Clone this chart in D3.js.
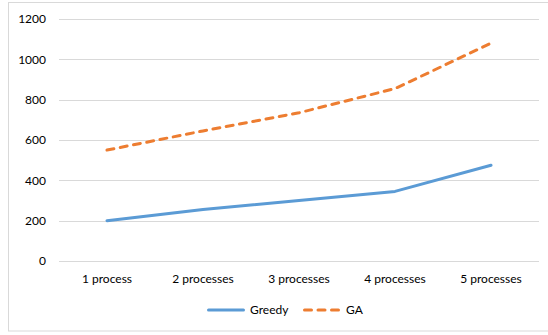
<!DOCTYPE html>
<html>
<head>
<meta charset="utf-8">
<script src="https://cdn.jsdelivr.net/npm/d3@7"></script>
<style>
  html, body { margin: 0; padding: 0; background: #fff; }
  svg { display: block; }
  text { font-family: Lato, "Open Sans", sans-serif; font-size: 12px; fill: #000; }
</style>
</head>
<body>
<svg id="chart" width="548" height="335"></svg>
<script>
// Run time by number of processes
const categories = ["1 process", "2 processes", "3 processes", "4 processes", "5 processes"];
const greedy = [200, 255, 300, 345, 475];
const ga = [550, 645, 735, 855, 1080];
const yTicks = [0, 200, 400, 600, 800, 1000, 1200];
const seriesNames = ["Greedy", "GA"];
const seriesColors = ["#5b9bd5", "#ed7d31"];

const svg = d3.select("#chart");
const fontFamily = "Lato, 'Open Sans', sans-serif";

// chart frame
svg.append("rect")
  .attr("x", 8.5).attr("y", 2.5)
  .attr("width", 545).attr("height", 328.5)
  .attr("fill", "#fff").attr("stroke", "#d9d9d9").attr("stroke-width", 1);

const x = d3.scaleBand().domain(categories).range([59, 539]);
const y = d3.scaleLinear().domain([0, 1200]).range([261, 19]);

// horizontal gridlines
svg.append("g").selectAll("line").data(yTicks).join("line")
  .attr("x1", 59).attr("x2", 539)
  .attr("y1", d => Math.round(y(d)) + 0.5).attr("y2", d => Math.round(y(d)) + 0.5)
  .attr("stroke", "#d9d9d9").attr("stroke-width", 1);

// value axis labels
const yAxis = svg.append("g").attr("transform", "translate(46,0)")
  .call(d3.axisLeft(y).tickValues(yTicks).tickFormat(d3.format("d")).tickSize(0).tickPadding(0));
yAxis.select(".domain").remove();
yAxis.selectAll("text").style("font-family", fontFamily).style("font-size", "12px").attr("fill", "#000");

// category axis labels
const xAxis = svg.append("g").attr("transform", "translate(0,274)")
  .call(d3.axisBottom(x).tickSize(0).tickPadding(0));
xAxis.select(".domain").remove();
xAxis.selectAll("text").style("font-family", fontFamily).style("font-size", "12px").attr("fill", "#000");

const line = d3.line()
  .x((d, i) => x(categories[i]) + x.bandwidth() / 2)
  .y(d => y(d));

svg.append("path").datum(greedy)
  .attr("d", line).attr("fill", "none")
  .attr("stroke", seriesColors[0]).attr("stroke-width", 3)
  .attr("stroke-linejoin", "round").attr("stroke-linecap", "round");

svg.append("path").datum(ga)
  .attr("d", line).attr("fill", "none")
  .attr("stroke", seriesColors[1]).attr("stroke-width", 3)
  .attr("stroke-dasharray", "7,6.5")
  .attr("stroke-linejoin", "round").attr("stroke-linecap", "round");

// legend
const legend = svg.append("g");
const legendItems = [
  { name: seriesNames[0], color: seriesColors[0], x0: 207, dash: null },
  { name: seriesNames[1], color: seriesColors[1], x0: 303, dash: "7,6.5" }
];
legendItems.forEach(it => {
  legend.append("line")
    .attr("x1", it.x0 + 1.5).attr("x2", it.x0 + 36.5)
    .attr("y1", 310).attr("y2", 310)
    .attr("stroke", it.color).attr("stroke-width", 3)
    .attr("stroke-linecap", "round")
    .attr("stroke-dasharray", it.dash);
  legend.append("text")
    .attr("x", it.x0 + 43).attr("y", 314)
    .text(it.name);
});
</script>
</body>
</html>
